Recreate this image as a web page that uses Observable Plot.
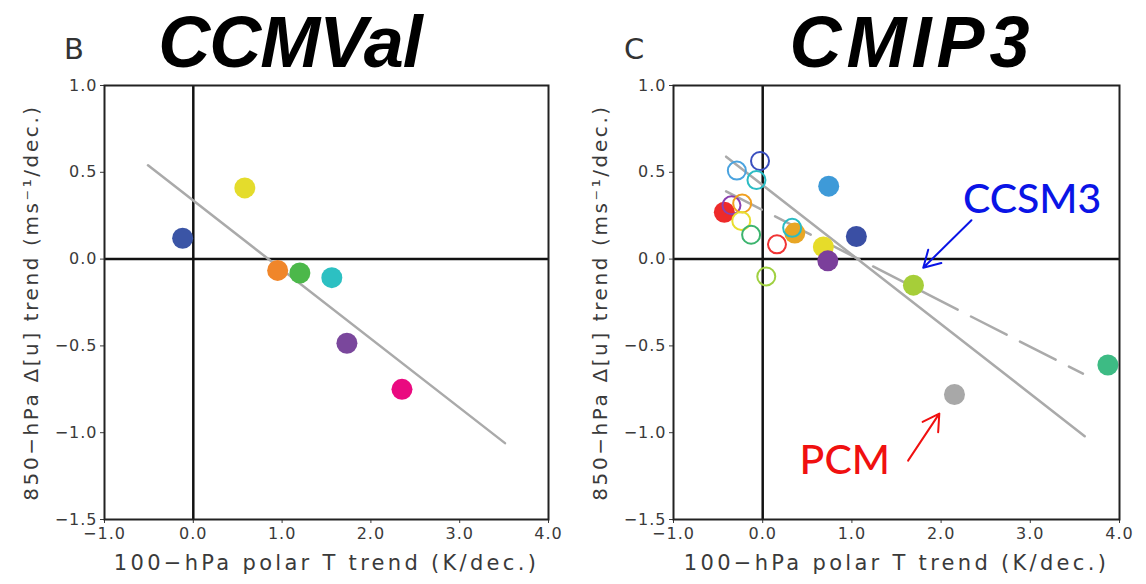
<!DOCTYPE html>
<html>
<head>
<meta charset="utf-8">
<script src="https://cdn.jsdelivr.net/npm/d3@7"></script>
<script src="https://cdn.jsdelivr.net/npm/@observablehq/plot@0.6"></script>
<style>
  html, body { margin: 0; padding: 0; background: #fff; }
  #wrap { position: relative; width: 1146px; height: 584px; overflow: hidden; }
  .panel { position: absolute; top: 0; }
  .title { position: absolute; font-family: "Liberation Sans", Arial, sans-serif; font-weight: bold; font-style: italic; font-size: 72px; line-height: 1; color: #000; transform: translateX(-50%); white-space: nowrap; }
  .letter { position: absolute; font-family: "DejaVu Sans", sans-serif; font-size: 29px; line-height: 1; color: #333; }
</style>
</head>
<body>
<div id="wrap">
  <div class="letter" style="left:64px; top:35px;">B</div>
  <div class="title" style="left:290px; top:6px; letter-spacing:-1px;">CCMVal</div>
  <div class="letter" style="left:624px; top:35px;">C</div>
  <div class="title" style="left:912px; top:6px; letter-spacing:5px;">CMIP3</div>
  <div class="panel" id="left" style="left:0px;"></div>
  <div class="panel" id="right" style="left:573px;"></div>
</div>
<script>
// ---- axis data ----
const xTicks = [-1, 0, 1, 2, 3, 4];
const yTicks = [-1.5, -1, -0.5, 0, 0.5, 1];
const xLabel = "100−hPa polar T trend (K/dec.)";
const yLabel = "850−hPa Δ[u] trend (ms⁻¹/dec.)";

// ---- panel B: CCMVal ----
const ccmvalX = [-0.12, 0.58, 0.95, 1.20, 1.56, 1.73, 2.35];
const ccmvalY = [0.12, 0.41, -0.065, -0.08, -0.107, -0.485, -0.75];
const ccmvalColor = ["#3b55a6", "#e4dc2c", "#f0862a", "#4cb84a", "#2cc0c2", "#7a479c", "#ea0a80"];
const ccmvalFitX = [-0.51, 3.51];
const ccmvalFitY = [0.54, -1.06];

// ---- panel C: CMIP3 ----
const cmipX = [-0.03, -0.29, -0.07, 0.74, -0.43, -0.35, -0.23, -0.24, -0.13, 0.16, 0.33, 0.36, 0.68, 0.73, 1.05, 0.04, 1.69, 3.87, 2.15];
const cmipY = [0.565, 0.51, 0.455, 0.42, 0.27, 0.31, 0.32, 0.22, 0.14, 0.085, 0.18, 0.15, 0.07, -0.01, 0.13, -0.10, -0.15, -0.61, -0.78];
const cmipColor = ["#3a4fbf", "#4aa3df", "#2bbcc4", "#3e9ad8", "#ee2a2a", "#8b3fb0", "#f0a020", "#e8de30", "#3cb46e", "#f03434", "#2bbcc4", "#e8a625", "#e6dc2a", "#7b3f9b", "#3a4fa4", "#9fd040", "#a6ce39", "#3dbb84", "#a8a8a8"];
const cmipFilled = [false, false, false, true, true, false, false, false, false, false, false, true, true, true, true, false, true, true, true];
const cmipFitX = [-0.41, 3.61];
const cmipFitY = [0.59, -1.02];
const ccsm3FitX = [-0.41, 3.59];
const ccsm3FitY = [0.39, -0.66];

// ---- annotations (panel C, data coordinates) ----
const annoText = ["CCSM3", "PCM"];
const annoX = [3.02, 0.92];
const annoY = [0.34, -1.16];
const annoColor = ["#0a14e6", "#f01010"];
const arrowX1 = [2.34, 1.63];
const arrowY1 = [0.224, -1.161];
const arrowX2 = [1.80, 1.98];
const arrowY2 = [-0.05, -0.89];

const fmt = d => (d < 0 ? "−" : "") + Math.abs(d).toFixed(1);
const fontFam = "'DejaVu Sans', sans-serif";
const tickTexts = new Set([...xTicks, ...yTicks].map(fmt));

function spacing(svg) {
  d3.select(svg).selectAll("text").each(function () {
    const t = this.textContent;
    if (t === xLabel) this.setAttribute("letter-spacing", "3.3");
    else if (t === yLabel) this.setAttribute("letter-spacing", "2.6");
    else if (tickTexts.has(t)) this.setAttribute("letter-spacing", "1");
  });
  return svg;
}

function basePanel(marginLeft, marginRight, marks) {
  return spacing(Plot.plot({
    width: 573,
    height: 584,
    marginLeft, marginRight,
    marginTop: 85,
    marginBottom: 65,
    style: { fontFamily: fontFam, color: "#3a3a3a", background: "transparent", overflow: "visible" },
    x: { domain: [-1, 4] },
    y: { domain: [-1.5, 1] },
    marks: [
      Plot.axisX({ ticks: xTicks, tickFormat: fmt, tickSize: 4, fontSize: 16, label: null, tickPadding: 4 }),
      Plot.axisY({ ticks: yTicks, tickFormat: fmt, tickSize: 4, fontSize: 16, label: null, tickPadding: 3 }),
      Plot.text([xLabel], { frameAnchor: "bottom", textAnchor: "middle", dy: 50, fontSize: 21, fill: "#3a3a3a" }),
      Plot.text([yLabel], { frameAnchor: "left", textAnchor: "middle", rotate: -90, dx: -73, fontSize: 20, fill: "#3a3a3a" }),
      Plot.ruleX([0], { stroke: "#111", strokeWidth: 2.5 }),
      Plot.ruleY([0], { stroke: "#111", strokeWidth: 2.5 }),
      ...marks,
      Plot.frame({ stroke: "#222", strokeWidth: 2 })
    ]
  }));
}

const idxB = d3.range(ccmvalX.length);
const left = basePanel(104, 25, [
  Plot.line(d3.range(2), { x: i => ccmvalFitX[i], y: i => ccmvalFitY[i], stroke: "#aaa", strokeWidth: 2.5 }),
  Plot.dot(idxB, { x: i => ccmvalX[i], y: i => ccmvalY[i], r: 10.5, fill: i => ccmvalColor[i], stroke: "none" })
]);
document.getElementById("left").appendChild(left);

const idxC = d3.range(cmipX.length);
const right = basePanel(100, 27, [
  Plot.line(d3.range(2), { x: i => cmipFitX[i], y: i => cmipFitY[i], stroke: "#aaa", strokeWidth: 2.5 }),
  Plot.line(d3.range(2), { x: i => ccsm3FitX[i], y: i => ccsm3FitY[i], stroke: "#aaa", strokeWidth: 2.5, strokeDasharray: "40,15" }),
  Plot.dot(idxC.filter(i => cmipFilled[i]), { x: i => cmipX[i], y: i => cmipY[i], r: 10.5, fill: i => cmipColor[i], stroke: "none" }),
  Plot.dot(idxC.filter(i => !cmipFilled[i]), { x: i => cmipX[i], y: i => cmipY[i], r: 9, fill: "none", stroke: i => cmipColor[i], strokeWidth: 2 }),
  Plot.arrow(d3.range(2), { x1: i => arrowX1[i], y1: i => arrowY1[i], x2: i => arrowX2[i], y2: i => arrowY2[i], stroke: i => annoColor[i], strokeWidth: 2, headLength: 14 }),
  Plot.text(d3.range(2), { x: i => annoX[i], y: i => annoY[i], text: i => annoText[i], fill: i => annoColor[i], fontSize: 41, fontFamily: "Lato, sans-serif", fontWeight: 500 })
]);
document.getElementById("right").appendChild(right);
</script>
</body>
</html>
